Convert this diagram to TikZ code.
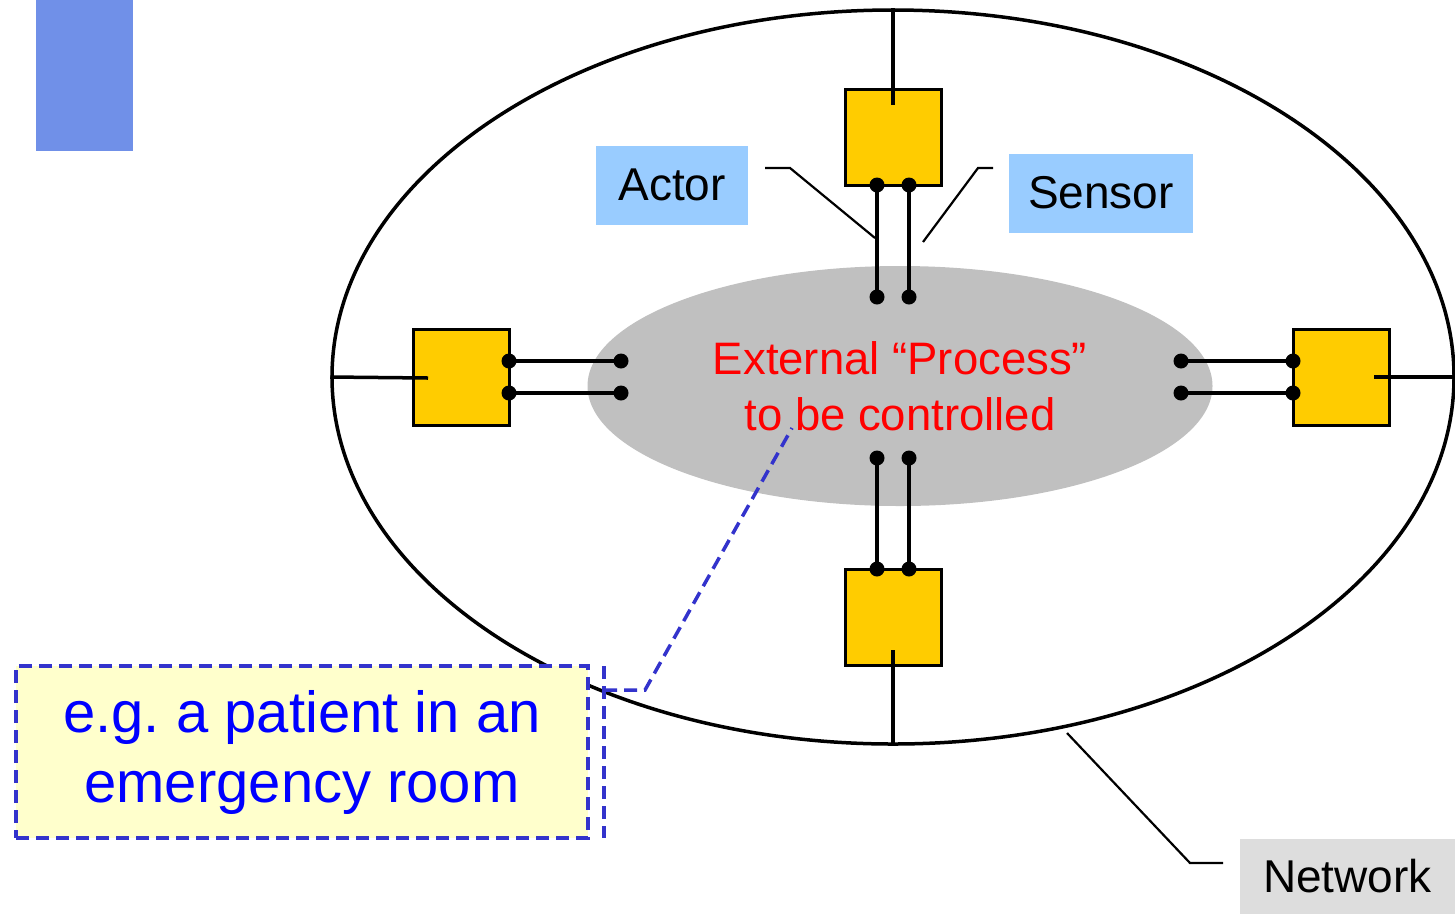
\documentclass[tikz,border=0pt]{standalone}
\usepackage{fontspec}
\setmainfont{Liberation Sans}
\usetikzlibrary{shapes.geometric}
\definecolor{bannerblue}{HTML}{7090E8}
\definecolor{boxyellow}{HTML}{FFCC00}
\definecolor{procgray}{HTML}{C0C0C0}
\definecolor{labelblue}{HTML}{99CCFF}
\definecolor{notefill}{HTML}{FFFFCC}
\definecolor{noteline}{HTML}{3333CC}
\definecolor{netgray}{HTML}{DDDDDD}
\frenchspacing
\begin{document}
\begin{tikzpicture}[x=1pt,y=-1pt,
  unitbox/.style={draw=black,line width=3pt,fill=boxyellow,minimum size=96pt,inner sep=0pt},
  wire/.style={line width=4.5pt},
  stub/.style={line width=3.5pt},
  leader/.style={line width=2.2pt},
  tag/.style={inner sep=0pt,font=\fontsize{46}{54}\selectfont},
  notedash/.style={draw=noteline,line width=3.5pt,dash pattern=on 13pt off 7pt},
  dot/.style={circle,fill=black,inner sep=0pt,minimum size=15pt}]
\useasboundingbox (0,0) rectangle (1455,914);
% corner banner
\fill[bannerblue] (36,0) rectangle (133,151);
% network ring
\node[ellipse,draw=black,line width=3.5pt,minimum width=1122pt,minimum height=734pt,inner sep=0pt] (net) at (893,377) {};
% process in the middle
\node[ellipse,fill=procgray,minimum width=625pt,minimum height=240pt,inner sep=0pt,
      text=red,align=center,font=\fontsize{45.5}{56}\selectfont] (proc) at (900,386)
      {External “Process”\\to be controlled};
% sensor/actor units
\node[unitbox] (ut) at (893,137) {};
\node[unitbox] (ul) at (461,377) {};
\node[unitbox] (ur) at (1341,377) {};
\node[unitbox] (ub) at (893,617) {};
% attachment points
\coordinate (ut1) at (877,185); \coordinate (ut2) at (909,185);
\coordinate (pt1) at (877,297); \coordinate (pt2) at (909,297);
\coordinate (ul1) at (509,361); \coordinate (ul2) at (509,393);
\coordinate (pl1) at (621,361); \coordinate (pl2) at (621,393);
\coordinate (ur1) at (1293,361); \coordinate (ur2) at (1293,393);
\coordinate (pr1) at (1181,361); \coordinate (pr2) at (1181,393);
\coordinate (ub1) at (877,569); \coordinate (ub2) at (909,569);
\coordinate (pb1) at (877,458); \coordinate (pb2) at (909,458);
% wires between units and process
\foreach \a/\b in {ut1/pt1,ut2/pt2,ul1/pl1,ul2/pl2,ur1/pr1,ur2/pr2,ub1/pb1,ub2/pb2}{
  \draw[wire] (\a) -- (\b);
  \node[dot] at (\a) {};
  \node[dot] at (\b) {};
}
% links from units to the network
\coordinate (it) at (893,105);
\coordinate (il) at (428,378);
\coordinate (ir) at (1374,377);
\coordinate (ib) at (893,650);
\draw[stub] (net.north) -- (it);
\draw[stub] (net.west) -- (il);
\draw[stub] (ir) -- (1455,377);
\draw[stub] (ib) -- (net.south);
% labels
\node[tag,fill=labelblue,minimum width=152pt,minimum height=79pt] (actor) at (672,185) {Actor};
\node[tag,fill=labelblue,minimum width=184pt,minimum height=79pt] (sensor) at (1101,193) {Sensor};
\node[tag,fill=netgray,minimum width=215pt,minimum height=75pt] (netlabel) at (1347.5,876.5) {Network};
\coordinate (actortail) at (765,168);
\coordinate (sensortail) at (993,168);
\coordinate (nettail) at (1223,863);
\draw[leader] (actortail) -- (790,168) -- (875,238);
\draw[leader] (sensortail) -- (978,168) -- (923,242);
\draw[leader] (nettail) -- (1190,863) -- (1067,733);
% example callout
\node[notedash,fill=notefill,minimum width=572pt,minimum height=172pt,inner sep=0pt,
      text=blue,align=center,font=\fontsize{58}{70}\selectfont] (note) at (302,752)
      {e.g. a patient in an\\emergency room};
\coordinate (bartop) at (604,666);
\coordinate (barbot) at (604,838);
\coordinate (tip) at (792,428);
\draw[notedash] (bartop) -- (barbot);
\draw[notedash] (604,690) -- (645,690) -- (tip);
\end{tikzpicture}
\end{document}
